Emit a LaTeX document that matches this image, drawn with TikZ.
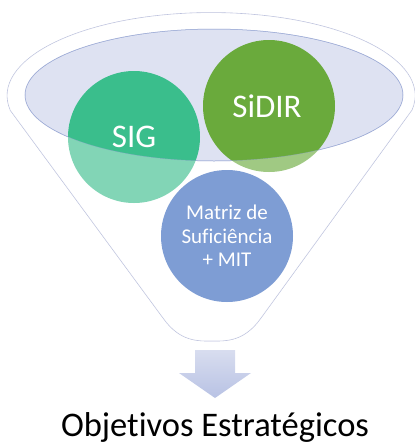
\documentclass[tikz,border=0pt]{standalone}
\usepackage{fontspec}
\setmainfont{Carlito}[Ligatures=NoCommon]
\usetikzlibrary{positioning}

\definecolor{funilborda}{RGB}{178,184,216}
\definecolor{elipse}{RGB}{222,226,242}
\definecolor{elipseborda}{RGB}{142,158,208}
\definecolor{verdesig}{RGB}{58,190,140}
\definecolor{verdesidir}{RGB}{106,170,60}
\definecolor{azulmatriz}{RGB}{126,157,212}
\definecolor{setacima}{RGB}{216,221,239}
\definecolor{setabaixo}{RGB}{184,194,228}

\tikzset{
  bola/.style={circle, minimum size=132pt, inner sep=0pt, text=white, align=center},
  funil/.style={fill=white, draw=funilborda, line width=.6pt}
}

\begin{document}
\begin{tikzpicture}[x=1pt, y=-1pt]
 \useasboundingbox (0,0) rectangle (415,445);

 % funil
 \draw [funil] (10,110) -- (163,318) .. controls (180,342) and (198,341) .. (212,341)
   .. controls (226,341) and (244,342) .. (261,318) -- (412,110)
   arc [start angle=10, end angle=-190, x radius=204, y radius=83];
 \draw [fill=elipse, draw=elipseborda, line width=.5pt] (214,95) ellipse [x radius=189, y radius=66];

 \node [bola, fill=verdesig] (sig) at (134,137) {};
 \node [bola, fill=verdesidir] (sidir) at (269,106) {};

 % parte de baixo mais clara
 \fill [white, opacity=.37, even odd rule] (10,110) -- (163,318) .. controls (180,342) and (198,341) .. (212,341)
   .. controls (226,341) and (244,342) .. (261,318) -- (412,110)
   arc [start angle=10, end angle=-190, x radius=204, y radius=83]
   (214,95) ellipse [x radius=189, y radius=66];
 \draw [elipseborda, opacity=.5, line width=.5pt] (214,95) ellipse [x radius=189, y radius=66];

 \node [bola, fill=azulmatriz, font=\fontsize{21}{23.5}\selectfont] (matriz) at (227,236)
   {Matriz de\\Suficiência\\+ MIT};

 \node [text=white, font=\fontsize{33}{36}\selectfont] at (sig) {SIG};
 \node [text=white, font=\fontsize{33}{36}\selectfont] at ([xshift=-2pt]sidir) {SiDIR};

 % seta
 \draw [draw=none, top color=setacima, bottom color=setabaixo]
   (195,350) -- (235,350) -- (235,373) -- (251,373) -- (215,398) -- (179,373) -- (195,373) -- cycle;

 \node [font=\fontsize{34.5}{37}\selectfont] (objetivos) at (215,427) {Objetivos Estratégicos};
\end{tikzpicture}
\end{document}
